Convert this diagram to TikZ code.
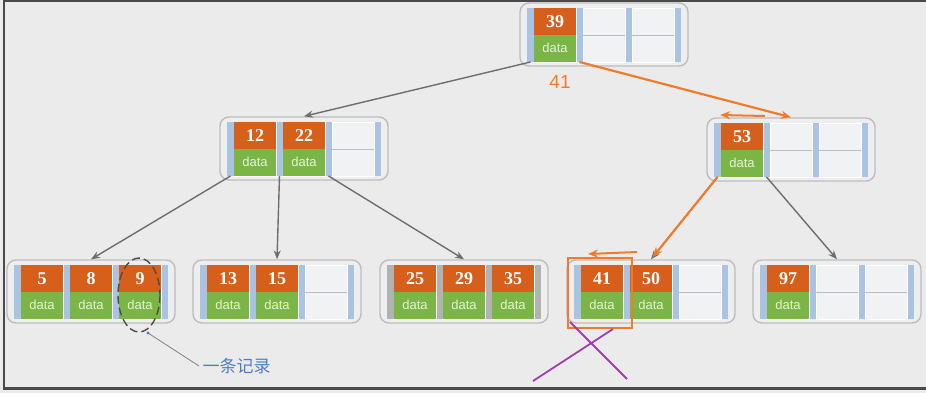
\documentclass[tikz,border=0pt]{standalone}
\usepackage{fontspec}
\setmainfont{Liberation Sans}
\newfontfamily\keyfont{Liberation Serif}
\newfontfamily\cjkfont{Noto Sans CJK SC}
\usetikzlibrary{arrows.meta}

\definecolor{pagebg}{HTML}{EBEBEB}
\definecolor{framegray}{HTML}{4A4A4A}
\definecolor{boxgray}{HTML}{BDBDBD}
\definecolor{boxfill}{HTML}{EEEEEE}
\definecolor{barblue}{HTML}{AAC3E2}
\definecolor{bargray}{HTML}{B2B2B2}
\definecolor{cellfill}{HTML}{F1F2F4}
\definecolor{cellline}{HTML}{B7BEC7}
\definecolor{keyorange}{HTML}{D55F1B}
\definecolor{datagreen}{HTML}{7BB545}
\definecolor{datatxt}{HTML}{E6F3D8}
\definecolor{edgegray}{HTML}{6E6E6E}
\definecolor{walkorange}{HTML}{F07B2C}
\definecolor{crosspurple}{HTML}{A03DAF}
\definecolor{noteblue}{HTML}{4D7EC3}

\tikzset{
  btbox/.style={draw=boxgray, line width=1.4pt, rounded corners=9pt, fill=boxfill,
    minimum width=168pt, minimum height=63pt, inner sep=0pt},
  keytext/.style={text=white, inner sep=0pt,
    font=\keyfont\bfseries\fontsize{18}{18}\selectfont},
  datatext/.style={text=datatxt, inner sep=0pt, font=\fontsize{13}{13}\selectfont},
  ptr/.style={draw=edgegray, line width=1.4pt, -{Stealth[length=9pt,width=7pt]}},
  walk/.style={draw=walkorange, line width=2.2pt, -{Stealth[length=10pt,width=8pt]}},
}

% one B-tree page: name, left, top, keys, bar colour
\newcommand{\btnode}[5]{%
  \begin{scope}[shift={(#2,#3)}]
    \node[btbox] (#1) at (84,31.5) {};
    \foreach \i in {0,1,2,3}
      \fill[#5] (7+49*\i,5) rectangle ++(7,54);
    \foreach \i in {0,1,2} {
      \filldraw[fill=cellfill, draw=white, line width=0.4pt] (14+49*\i,5) rectangle ++(42,54);
      \draw[cellline, line width=0.8pt] (14+49*\i,32) -- ++(42,0);
    }
    \foreach \k [count=\n from 0] in {#4} {
      \fill[keyorange] (14+49*\n,5) rectangle ++(42,27);
      \fill[datagreen] (14+49*\n,32) rectangle ++(42,27);
      \node[keytext] (#1-k\n) at (35+49*\n,19) {\k};
      \node[datatext] (#1-d\n) at (35+49*\n,45) {data};
    }
    \foreach \i in {0,1,2,3}
      \coordinate (#1-p\i) at (10.5+49*\i,59);
  \end{scope}}

\begin{document}
\begin{tikzpicture}[x=1pt, y=-1pt]
  \useasboundingbox (0,0) rectangle (926,393);

  % Background and frame
  \fill[pagebg] (0,0) rectangle (926,393);
  \draw[framegray, line width=2pt] (4,389) -- (4,1) -- (926,1);
  \draw[framegray, line width=2.5pt] (3,388.5) -- (926,388.5);

  % Pages of the tree
  \btnode{root}{520}{3}{39}{barblue}
  \btnode{nA}{220}{117}{12,22}{barblue}
  \btnode{nB}{707}{118}{53}{barblue}
  \btnode{leafA}{7}{260}{5,8,9}{barblue}
  \btnode{leafB}{193}{260}{13,15}{barblue}
  \btnode{leafC}{380}{260}{25,29,35}{bargray}
  \btnode{leafD}{567}{260}{41,50}{barblue}
  \btnode{leafE}{753}{260}{97}{barblue}

  % Child pointers
  \draw[ptr] (root-p0) -- (nA.north);
  \draw[ptr] (nA-p0) -- (leafA.north);
  \draw[ptr] (nA-p1) -- (leafB.north);
  \draw[ptr] (nA-p2) -- (leafC.north);
  \draw[ptr] (nB-p0) -- (leafD.north);
  \draw[ptr] (nB-p1) -- (leafE.north);

  % Search path for 41
  \node[text=walkorange, font=\fontsize{19}{19}\selectfont] (key41) at (560,82) {41};
  \draw[walk] (root-p1) -- (nB.north);
  \draw[walk, shorten >=3pt] (nB-p0) -- (leafD.north);
  \coordinate (scanBa) at (765,116);
  \coordinate (scanBb) at (720,115);
  \coordinate (scanDa) at (637,252);
  \coordinate (scanDb) at (588,254);
  \draw[walk, line width=2pt] (scanBa) -- (scanBb);
  \draw[walk, line width=2pt] (scanDa) -- (scanDb);
  \draw[walkorange, line width=2pt] (568,258) rectangle (632,328);

  % Crossed out
  \draw[crosspurple, line width=1.8pt] (533,381) -- (613,329);
  \draw[crosspurple, line width=1.8pt] (570,322) -- (627,379);

  % One record
  \draw[black!70, dash pattern=on 8pt off 4pt, line width=1.4pt]
    (139,295) ellipse [x radius=21, y radius=37];
  \coordinate (recordA) at (148,333);
  \node[text=noteblue, anchor=west, font=\cjkfont\fontsize{17}{17}\selectfont] (record) at (199,366) {一条记录};
  \draw[gray, line width=0.8pt] (recordA) -- (record.west);
  \fill[noteblue] (recordA) circle (1.6);
\end{tikzpicture}
\end{document}
